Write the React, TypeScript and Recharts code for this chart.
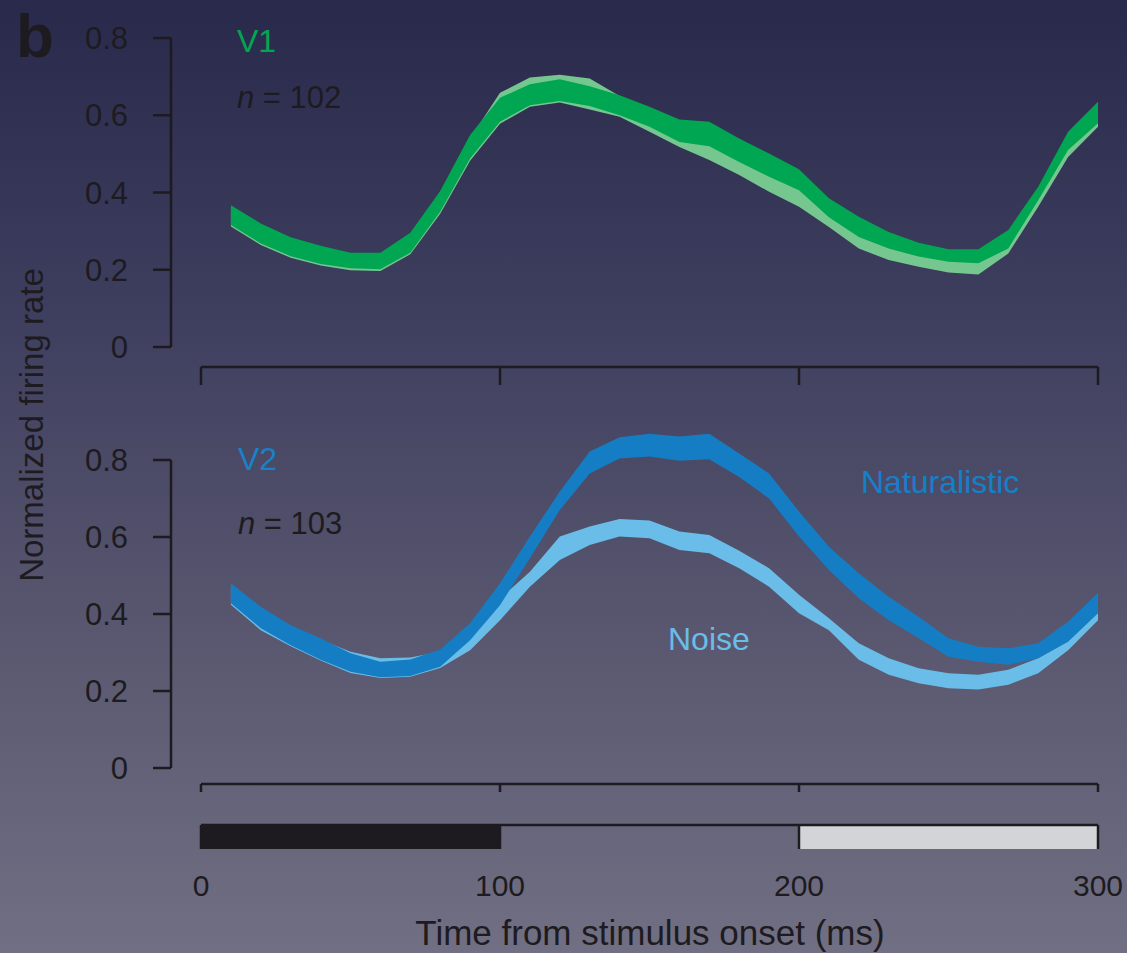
import { ComposedChart, Area, XAxis, YAxis } from 'recharts'

// time bins (ms after stimulus onset)
const TIMES = [10, 20, 30, 40, 50, 60, 70, 80, 90, 100, 110, 120, 130, 140, 150, 160, 170, 180, 190, 200, 210, 220, 230, 240, 250, 260, 270, 280, 290, 300]

// V1, n = 102 — lower / upper edge of each band
const V1_NAT_LO = [0.316, 0.268, 0.235, 0.215, 0.204, 0.201, 0.244, 0.35, 0.488, 0.583, 0.626, 0.637, 0.624, 0.6, 0.57, 0.531, 0.52, 0.479, 0.441, 0.406, 0.336, 0.285, 0.255, 0.234, 0.221, 0.217, 0.255, 0.38, 0.51, 0.579]
const V1_NAT_HI = [0.367, 0.32, 0.284, 0.262, 0.244, 0.244, 0.296, 0.404, 0.549, 0.645, 0.68, 0.693, 0.675, 0.652, 0.622, 0.589, 0.583, 0.54, 0.501, 0.46, 0.385, 0.337, 0.298, 0.27, 0.253, 0.253, 0.303, 0.415, 0.557, 0.635]
const V1_NOISE_LO = [0.312, 0.264, 0.231, 0.211, 0.199, 0.197, 0.24, 0.345, 0.482, 0.578, 0.622, 0.633, 0.615, 0.596, 0.557, 0.518, 0.484, 0.445, 0.402, 0.363, 0.311, 0.255, 0.225, 0.208, 0.193, 0.188, 0.242, 0.363, 0.492, 0.57]
const V1_NOISE_HI = [0.355, 0.31, 0.275, 0.255, 0.238, 0.236, 0.288, 0.398, 0.54, 0.658, 0.698, 0.705, 0.695, 0.65, 0.61, 0.572, 0.54, 0.5, 0.458, 0.418, 0.362, 0.305, 0.272, 0.25, 0.234, 0.23, 0.29, 0.405, 0.545, 0.62]

// V2, n = 103
const V2_NAT_LO = [0.428, 0.363, 0.319, 0.281, 0.25, 0.236, 0.239, 0.263, 0.332, 0.423, 0.545, 0.67, 0.765, 0.804, 0.809, 0.798, 0.802, 0.756, 0.7, 0.601, 0.514, 0.441, 0.384, 0.337, 0.289, 0.276, 0.268, 0.285, 0.328, 0.402]
const V2_NAT_HI = [0.48, 0.419, 0.371, 0.337, 0.298, 0.276, 0.282, 0.308, 0.376, 0.48, 0.601, 0.718, 0.822, 0.859, 0.868, 0.861, 0.868, 0.817, 0.765, 0.666, 0.575, 0.506, 0.445, 0.393, 0.337, 0.315, 0.311, 0.324, 0.38, 0.455]
const V2_NOISE_LO = [0.424, 0.358, 0.316, 0.279, 0.247, 0.234, 0.237, 0.26, 0.306, 0.384, 0.471, 0.54, 0.579, 0.601, 0.597, 0.566, 0.558, 0.519, 0.471, 0.402, 0.358, 0.281, 0.242, 0.22, 0.207, 0.204, 0.216, 0.246, 0.306, 0.384]
const V2_NOISE_HI = [0.47, 0.41, 0.365, 0.333, 0.302, 0.285, 0.287, 0.302, 0.35, 0.44, 0.51, 0.601, 0.627, 0.647, 0.643, 0.614, 0.605, 0.564, 0.519, 0.45, 0.389, 0.324, 0.285, 0.259, 0.246, 0.242, 0.255, 0.285, 0.33, 0.42]

const X_TICKS = [0, 100, 200, 300]
const Y_TICKS = [0, 0.2, 0.4, 0.6, 0.8]
const Y_LAST_TICK = 0.8

// stimulus timeline under the panels
const STIMULUS = [
  { from: 0, to: 100, kind: 'image' },
  { from: 200, to: 300, kind: 'blank' },
]

const INK = '#1d1b20'
const FONT = '"Liberation Sans", Arial, Helvetica, sans-serif'
const W = 1127
const PLOT_LEFT = 171
const PLOT_RIGHT = 1098
const X_GAP = 30 // offset between the y spine and t = 0

const STIM_FILL: Record<string, string> = { image: INK, blank: '#d3d4d7' }

const rows = (natLo: number[], natHi: number[], noiseLo: number[], noiseHi: number[]) =>
  TIMES.map((t, i) => ({ t, nat: [natLo[i], natHi[i]], noise: [noiseLo[i], noiseHi[i]] }))

const v1Rows = rows(V1_NAT_LO, V1_NAT_HI, V1_NOISE_LO, V1_NOISE_HI)
const v2Rows = rows(V2_NAT_LO, V2_NAT_HI, V2_NOISE_LO, V2_NOISE_HI)

// each stimulus segment becomes a full-height band between its two end points
const stimRows = STIMULUS.flatMap((s) => [
  { t: s.from, [s.kind]: [0, 1] },
  { t: s.to, [s.kind]: [0, 1] },
])

type PanelProps = {
  data: { t: number; nat: number[]; noise: number[] }[]
  top: number        // page y of the chart box
  tickTopY: number   // page y of the 0.8 tick
  zeroY: number      // page y of 0
  axisY: number      // page y of the detached x spine
  yMax: number       // top of the value domain (bands may overshoot the last tick)
  xTickSize: number
  natColor: string
  noiseColor: string
}

function Panel({ data, top, tickTopY, zeroY, axisY, yMax, xTickSize, natColor, noiseColor }: PanelProps) {
  const height = 400
  const spine = zeroY - tickTopY
  const headroom = (spine * (yMax - Y_LAST_TICK)) / Y_LAST_TICK
  return (
    <div style={{ position: 'absolute', left: 0, top }}>
      <ComposedChart
        width={W}
        height={height}
        data={data}
        margin={{ top: tickTopY - top - headroom, right: W - PLOT_RIGHT, left: 0, bottom: 0 }}
      >
        <XAxis
          dataKey="t"
          type="number"
          domain={[0, 300]}
          ticks={X_TICKS}
          padding={{ left: X_GAP, right: 0 }}
          height={top + height - axisY}
          tickFormatter={() => ''}
          tickSize={xTickSize}
          tickLine={{ stroke: INK, strokeWidth: 2.5 }}
          axisLine={{ stroke: INK, strokeWidth: 2.5, strokeDasharray: `0 ${X_GAP} ${PLOT_RIGHT - PLOT_LEFT - X_GAP} 2000` }}
        />
        <YAxis
          type="number"
          domain={[0, yMax]}
          ticks={Y_TICKS}
          interval={0}
          width={PLOT_LEFT}
          padding={{ top: 0, bottom: axisY - zeroY }}
          tickFormatter={(v) => (v === 0 ? '0' : Number(v).toFixed(1))}
          tick={{ fill: INK, fontSize: 31, fontFamily: FONT }}
          tickSize={18}
          tickMargin={25}
          tickLine={{ stroke: INK, strokeWidth: 2.5 }}
          axisLine={{ stroke: INK, strokeWidth: 2.5, strokeDasharray: `0 ${headroom} ${spine} 2000` }}
        />
        <Area type="linear" dataKey="noise" stroke="none" fill={noiseColor} fillOpacity={1} dot={false} activeDot={false} isAnimationActive={false} />
        <Area type="linear" dataKey="nat" stroke="none" fill={natColor} fillOpacity={1} dot={false} activeDot={false} isAnimationActive={false} />
      </ComposedChart>
    </div>
  )
}

function StimulusBar() {
  return (
    <div style={{ position: 'absolute', left: 0, top: 800 }}>
      <ComposedChart
        width={W}
        height={153}
        data={stimRows}
        margin={{ top: 25, right: W - PLOT_RIGHT, left: PLOT_LEFT + X_GAP, bottom: 0 }}
      >
        <XAxis
          xAxisId="time"
          type="number"
          dataKey="t"
          domain={[0, 300]}
          ticks={X_TICKS}
          height={104}
          axisLine={false}
          tickLine={false}
          tickSize={0}
          tickMargin={26}
          tick={{ fill: INK, fontSize: 30, fontFamily: FONT }}
        />
        {/* mirrored top axis draws the frame: top edge plus the segment borders */}
        <XAxis
          xAxisId="frame"
          orientation="top"
          mirror
          type="number"
          dataKey="t"
          domain={[0, 300]}
          ticks={X_TICKS}
          tickFormatter={() => ''}
          tickSize={24}
          tickLine={{ stroke: INK, strokeWidth: 2.5 }}
          axisLine={{ stroke: INK, strokeWidth: 2.5 }}
        />
        <YAxis type="number" domain={[0, 1]} width={0} tick={false} axisLine={false} tickLine={false} />
        {STIMULUS.map((s) => (
          <Area
            key={s.kind}
            xAxisId="time"
            type="linear"
            dataKey={s.kind}
            stroke="none"
            fill={STIM_FILL[s.kind]}
            fillOpacity={1}
            dot={false}
            activeDot={false}
            isAnimationActive={false}
          />
        ))}
      </ComposedChart>
    </div>
  )
}

export default function App() {
  return (
    <div
      style={{
        position: 'absolute',
        left: 0,
        top: 0,
        width: W,
        height: 953,
        overflow: 'hidden',
        fontFamily: FONT,
        background: 'linear-gradient(to bottom, #292a4b 0%, #3e3e5f 33%, #59576f 66%, #716f83 100%)',
      }}
    >
      <Panel data={v1Rows} top={0} tickTopY={38} zeroY={347} axisY={367} yMax={0.8} xTickSize={18} natColor="#00a651" noiseColor="#75c78f" />
      <Panel data={v2Rows} top={400} tickTopY={460} zeroY={768} axisY={784} yMax={0.9} xTickSize={8} natColor="#157dc4" noiseColor="#6abde8" />
      <StimulusBar />

      <svg width={W} height={953} style={{ position: 'absolute', left: 0, top: 0, pointerEvents: 'none' }} fontFamily={FONT}>
        <text x={16} y={57} fontSize={62} fontWeight="bold" fill={INK}>b</text>
        <text x={43} y={425} fontSize={33} fill={INK} textAnchor="middle" transform="rotate(-90 43 425)">
          Normalized firing rate
        </text>

        <text x={237} y={52} fontSize={32} fill="#00a651">V1</text>
        <text x={237} y={108} fontSize={31} fill={INK}>
          <tspan fontStyle="italic">n</tspan> = 102
        </text>

        <text x={238} y={470} fontSize={32} fill="#1a80c8">V2</text>
        <text x={238} y={534} fontSize={31} fill={INK}>
          <tspan fontStyle="italic">n</tspan> = 103
        </text>
        <text x={861} y={493} fontSize={32} fill="#1580c8">Naturalistic</text>
        <text x={668} y={650} fontSize={32} fill="#6abde8">Noise</text>

        <text x={650} y={945} fontSize={35} fill={INK} textAnchor="middle">
          Time from stimulus onset (ms)
        </text>
      </svg>
    </div>
  )
}
